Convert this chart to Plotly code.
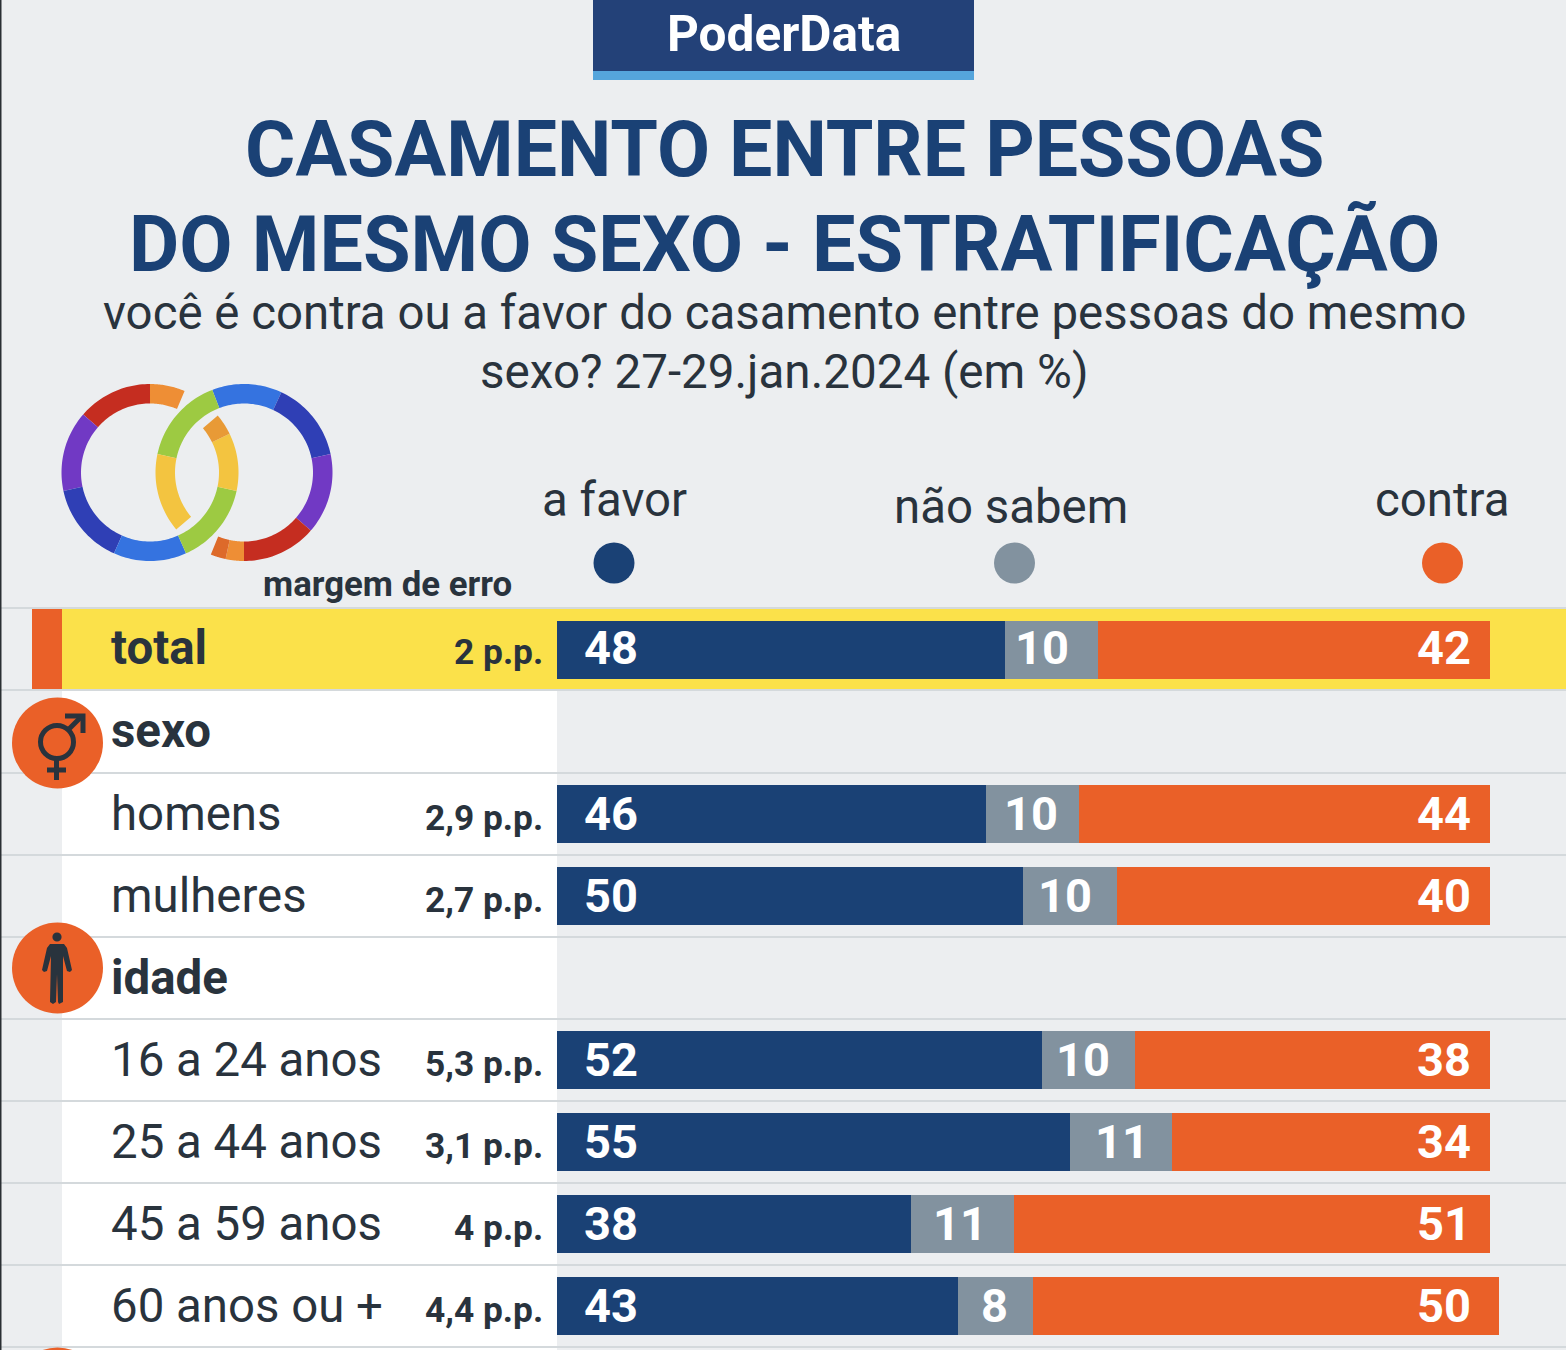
import numpy as np
import plotly.graph_objects as go

W, H = 1566, 1350
categories = ["total", "sexo", "homens", "mulheres", "idade",
              "16 a 24 anos", "25 a 44 anos", "45 a 59 anos", "60 anos ou +"]
favor = [48, None, 46, 50, None, 52, 55, 38, 43]
nao_sabem = [10, None, 10, 10, None, 10, 11, 11, 8]
contra = [42, None, 44, 40, None, 38, 34, 51, 50]
margem = ["2 p.p.", None, "2,9 p.p.", "2,7 p.p.", None, "5,3 p.p.", "3,1 p.p.", "4 p.p.", "4,4 p.p."]
cabecalhos = {"total", "sexo", "idade"}

NAVY, GRAY, ORANGE = "#1a4175", "#82929f", "#ea6028"
INK = "#29333d"
BG = "#eceef0"
LINE = "#d4d9dc"
FONT = "Roboto"

px = lambda x: x / W
py = lambda y: 1 - y / H

fig = go.Figure()
for nome, vals, cor in [("a favor", favor, NAVY), ("não sabem", nao_sabem, GRAY), ("contra", contra, ORANGE)]:
    fig.add_bar(y=categories, x=vals, name=nome, orientation="h", marker=dict(color=cor, line_width=0),
                width=0.71, hoverinfo="skip")

shapes, ann = [], []

def rect(x0, y0, x1, y1, color, layer="below"):
    shapes.append(dict(type="rect", xref="paper", yref="paper", x0=px(x0), x1=px(x1), y0=py(y0), y1=py(y1),
                       fillcolor=color, line_width=0, layer=layer))

def circle(cx, cy, r, fill=None, line=None, lw=0):
    shapes.append(dict(type="circle", xref="paper", yref="paper", x0=px(cx - r), x1=px(cx + r),
                       y0=py(cy + r), y1=py(cy - r), fillcolor=fill or "rgba(0,0,0,0)",
                       line=dict(color=line or "rgba(0,0,0,0)", width=lw), layer="above"))

def path(points, fill=None, line=None, lw=0, closed=True):
    d = "M" + "L".join(f"{px(x):.5f},{py(y):.5f}" for x, y in points) + ("Z" if closed else "")
    shapes.append(dict(type="path", xref="paper", yref="paper", path=d,
                       fillcolor=fill if fill else "rgba(0,0,0,0)",
                       line=dict(color=line or "rgba(0,0,0,0)", width=lw), layer="above"))

def text(x, y, s, size, color=INK, bold=False, anchor="center"):
    ann.append(dict(xref="paper", yref="paper", x=px(x), y=py(y), text=f"<b>{s}</b>" if bold else s,
                    showarrow=False, xanchor=anchor, yanchor="middle",
                    font=dict(family=FONT, size=size, color=color)))

def arc(cx, cy, a0, a1, color, ro=88.5, ri=69):
    t = np.radians(np.linspace(a0, a1, 30))
    outer = [(cx + ro * np.sin(a), cy - ro * np.cos(a)) for a in t]
    inner = [(cx + ri * np.sin(a), cy - ri * np.cos(a)) for a in t[::-1]]
    path(outer + inner, fill=color)

# fundo, painel branco e faixas
rect(62, 690, 557, H, "#ffffff")
rect(62, 609, W, 690, "#fbe14a")
rect(32, 607, 62, 689, ORANGE)
for y in [608, 690, 773, 855, 937, 1019, 1101, 1183, 1265, 1347]:
    rect(0, y - 1, W, y + 1, LINE)
rect(0, 0, 1.5, H, "#2a2f33")

# cabeçalho
rect(593, 0, 974, 71, "#234178")
rect(593, 71, 974, 80, "#55a5dc")
text(784, 34, "PoderData", 49.5, "#ffffff", True)
text(784.5, 150, "CASAMENTO ENTRE PESSOAS", 77, NAVY, True)
text(784.5, 244, "DO MESMO SEXO - ESTRATIFICAÇÃO", 77.3, NAVY, True)
text(784, 313, "você é contra ou a favor do casamento entre pessoas do mesmo", 47.4)
text(784, 372, "sexo? 27-29.jan.2024 (em %)", 47.6)

# alianças
LX, RX, CY = 150, 244, 472.5
for a0, a1, c in [(0, 23, "#ee8e35"), (-49, 0, "#c52d20"), (-102, -49, "#7139c4"), (-156, -102, "#2f3fb5"),
                  (-204, -156, "#3573e0"), (-258, -204, "#9dca42"), (-296, -258, "#f3c440"), (-310, -296, "#e89a36")]:
    arc(LX, CY, a0, a1, c)
for a0, a1, c in [(-21, 25, "#3573e0"), (25, 78, "#2f3fb5"), (78, 131, "#7139c4"), (131, 180, "#c52d20"),
                  (180, 192, "#ee8e35"), (192, 202, "#dd6a2a"), (-78, -21, "#9dca42"), (-130, -78, "#f3c440")]:
    arc(RX, CY, a0, a1, c)

# legenda
text(614, 500, "a favor", 47.4)
text(1011, 507, "não sabem", 47.4)
text(1442, 500, "contra", 47.4)
circle(614, 563, 20.5, NAVY)
circle(1014.5, 563, 20.5, GRAY)
circle(1442.5, 563, 20.5, ORANGE)
text(387, 584, "margem de erro", 34.8, INK, True)

# ícones
circle(57.5, 743, 45.5, ORANGE)
circle(57.5, 968, 45.5, ORANGE)
circle(57.5, 1393, 45.5, ORANGE)
circle(57, 742, 16.5, None, INK, 5)
path([(68, 730), (81, 717)], None, INK, 5, closed=False)
path([(65, 716), (83, 716), (83, 733)], None, INK, 5, closed=False)
path([(56.5, 760), (56.5, 780)], None, INK, 5, closed=False)
path([(47, 770), (66, 770)], None, INK, 5, closed=False)
circle(57, 937, 4.6, INK)
path([(50, 944), (64, 944), (67, 948), (72, 970), (70, 972), (67, 971), (63, 956), (63, 1002), (59, 1004),
      (58, 1002), (57, 974), (56, 1002), (53, 1004), (50, 1002), (51, 956), (47, 971), (44, 972), (42, 970), (47, 948)],
     fill=INK)

# rótulos das linhas
ajuste_ns = [-9, 0, -2, -5, 0, -6, 1, -3, -1]
for i, (cat, m, f, n, c) in enumerate(zip(categories, margem, favor, nao_sabem, contra)):
    ys = 2 if i == 0 else (1 if cat == "sexo" else 0)
    ann.append(dict(xref="paper", yref="y", x=px(109), y=cat, text=f"<b>{cat}</b>" if cat in cabecalhos else cat,
                    showarrow=False, xanchor="left", yanchor="middle", yshift=ys,
                    font=dict(family=FONT, size=47.4, color=INK)))
    if m is None:
        continue
    ann.append(dict(xref="paper", yref="y", x=px(545), y=cat, text=f"<b>{m}</b>", showarrow=False, xanchor="right",
                    yanchor="middle", yshift=ys - 4, font=dict(family=FONT, size=35.3, color=INK)))
    common = dict(xref="x", yref="y", y=cat, showarrow=False, yanchor="middle", yshift=ys + 1)
    ann.append(dict(common, x=0, text=f"<b>{f}</b>", xanchor="left", xshift=25.5,
                    font=dict(family=FONT, size=47, color="#ffffff")))
    ann.append(dict(common, x=f + n / 2, text=f"<b>{n}</b>", xanchor="center", xshift=ajuste_ns[i],
                    font=dict(family=FONT, size=47, color="#ffffff")))
    ann.append(dict(common, x=100, text=f"<b>{c}</b>", xanchor="right", xshift=-17,
                    font=dict(family=FONT, size=47, color="#ffffff")))

fig.update_layout(
    width=W, height=H, autosize=False, margin=dict(l=0, r=0, t=0, b=0, pad=0), barmode="stack",
    paper_bgcolor=BG, plot_bgcolor="rgba(0,0,0,0)", showlegend=False, shapes=shapes, annotations=ann,
    xaxis=dict(domain=[556.7 / W, 1], range=[0, (W - 556.7) / 9.33], visible=False, fixedrange=True),
    yaxis=dict(domain=[3 / H, 1 - 609 / H], type="category", categoryorder="array", categoryarray=categories,
               range=[8.5, -0.5], visible=False, fixedrange=True),
    font=dict(family=FONT),
)
fig.write_html("out.html", config={"displayModeBar": False},
               post_script="document.body.style.margin='0';document.documentElement.style.overflow='hidden';")
